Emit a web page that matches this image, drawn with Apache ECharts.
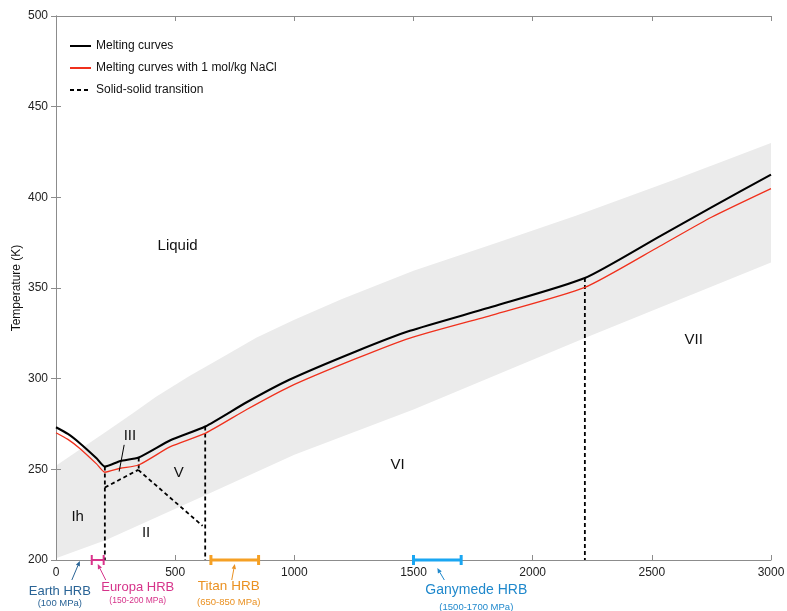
<!DOCTYPE html>
<html>
<head>
<meta charset="utf-8">
<script src="https://cdn.jsdelivr.net/npm/echarts@6/dist/echarts.min.js"></script>
<style>
html, body { margin: 0; padding: 0; background: #fff; }
#chart { width: 787px; height: 611px; }
</style>
</head>
<body>
<div id="chart"></div>
<script>
var FONT = '"Liberation Sans", Arial, Helvetica, sans-serif';

// melting curve of pure water ice (P in MPa, T in K)
var meltP = [0, 50, 100, 170, 205, 270, 347, 480, 626, 800, 979, 1258, 1485, 1834, 2219, 2533, 2750, 3000];
var meltT = [273.2, 269.5, 264.4, 256.1, 251.5, 254.6, 256.5, 266, 273.6, 287, 299.4, 315, 326.4, 339.8, 355.5, 378.5, 394.5, 412.5];

// melting curve with 1 mol/kg NaCl
var naclP = [0, 50, 100, 170, 205, 270, 347, 480, 628, 800, 979, 1258, 1485, 1834, 2219, 2533, 2750, 3000];
var naclT = [270.2, 266.5, 261.5, 253, 248.4, 250.6, 252.4, 262.5, 270, 283, 295.5, 311, 322.4, 335.2, 350.3, 373, 389, 404.8];

// solid-solid transitions, each a pair of [P, T] points
var transitions = [
    [[205, 251.5], [205, 200]],
    [[205, 240], [345, 249.7]],
    [[347, 256.5], [347, 249.7]],
    [[345, 249.7], [615, 218.8]],
    [[626, 273.6], [626, 200]],
    [[2219, 355.5], [2219, 200]]
];

// grey band edges
var bandUpperP = [0, 100, 213, 324, 420, 560, 700, 840, 1000, 1200, 1500, 1850, 2184, 2600, 3000];
var bandUpperT = [252, 261, 271, 281, 290, 301.5, 312, 322.5, 332.5, 344, 359.5, 375, 390, 410, 430];
var bandLowerP = [0, 210, 615, 1000, 1500, 2219, 3000];
var bandLowerT = [201, 211, 235, 258, 283, 322.4, 364];

// phase labels
var phaseNames = ['Liquid', 'III', 'V', 'VI', 'VII', 'Ih', 'II'];
var phaseP = [510, 310, 515, 1433, 2676, 91, 378];
var phaseT = [373.5, 268.4, 248.2, 252.4, 321.4, 223.6, 214.7];

// leader line from the III label
var leaderP = [286, 265];
var leaderT = [263.5, 248.8];

// high-pressure ranges of ocean bottoms
var hrbNames = ['Earth HRB', 'Europa HRB', 'Titan HRB', 'Ganymede HRB'];
var hrbRanges = ['(100 MPa)', '(150-200 MPa)', '(650-850 MPa)', '(1500-1700 MPa)'];
var hrbLow = [100, 150, 650, 1500];
var hrbHigh = [100, 200, 850, 1700];

var xTicks = [0, 500, 1000, 1500, 2000, 2500, 3000];
var yTicks = [200, 250, 300, 350, 400, 450, 500];

// drawing styles for the HRB marks
var hrbStyle = [
    {bar: '#1f5f96', text: '#2a6496', barW: 0, tailDx: -8, headDy: 1, labelDx: -20, nameDy: 31, subDy: 43, nameSize: 13, subSize: 9.5},
    {bar: '#d9338b', text: '#d6338a', barW: 2, tailDx: 8, headDy: 4, labelDx: 40, nameDy: 27.5, subDy: 41, nameSize: 13, subSize: 8.5},
    {bar: '#f5a024', text: '#ea9122', barW: 3, tailDx: -3, headDy: 4, labelDx: -6, nameDy: 26.5, subDy: 42, nameSize: 13.5, subSize: 9.5},
    {bar: '#1aa6f2', text: '#1f88cc', barW: 3, tailDx: 7, headDy: 8, labelDx: 39, nameDy: 30, subDy: 47, nameSize: 14, subSize: 9.5}
];

function zip(ps, ts) {
    return ps.map(function (p, i) { return [p, ts[i]]; });
}

function renderBand(params, api) {
    var pts = [];
    bandUpperP.forEach(function (p, i) { pts.push(api.coord([p, bandUpperT[i]])); });
    for (var i = bandLowerP.length - 1; i >= 0; i--) {
        pts.push(api.coord([bandLowerP[i], bandLowerT[i]]));
    }
    return {
        type: 'polygon',
        shape: {points: pts},
        style: {fill: '#ebebeb'}
    };
}

function renderHrb(params, api) {
    var i = params.dataIndex;
    var s = hrbStyle[i];
    var lo = api.coord([api.value(0), 200]);
    var hi = api.coord([api.value(1), 200]);
    var base = lo[1];
    var mid = (lo[0] + hi[0]) / 2;
    var children = [];
    if (hi[0] > lo[0]) {
        children.push({type: 'line', shape: {x1: lo[0], y1: base, x2: hi[0], y2: base}, style: {stroke: s.bar, lineWidth: s.barW}});
        children.push({type: 'line', shape: {x1: lo[0], y1: base - 5, x2: lo[0], y2: base + 5}, style: {stroke: s.bar, lineWidth: s.barW}});
        children.push({type: 'line', shape: {x1: hi[0], y1: base - 5, x2: hi[0], y2: base + 5}, style: {stroke: s.bar, lineWidth: s.barW}});
    }
    // arrow from label to the axis
    var hx = mid, hy = base + s.headDy;
    var tx = mid + s.tailDx, ty = base + 20;
    var dx = hx - tx, dy = hy - ty, len = Math.sqrt(dx * dx + dy * dy);
    var ux = dx / len, uy = dy / len;
    var bx = hx - ux * 5, by = hy - uy * 5;
    children.push({type: 'line', shape: {x1: tx, y1: ty, x2: bx, y2: by}, style: {stroke: s.text, lineWidth: 1}});
    children.push({type: 'polygon', shape: {points: [[hx, hy], [bx - uy * 2.2, by + ux * 2.2], [bx + uy * 2.2, by - ux * 2.2]]}, style: {fill: s.text}});
    children.push({
        type: 'text',
        style: {x: mid + s.labelDx, y: base + s.nameDy, text: hrbNames[i], fill: s.text, fontSize: s.nameSize, fontFamily: FONT, align: 'center', verticalAlign: 'middle'}
    });
    children.push({
        type: 'text',
        style: {x: mid + s.labelDx, y: base + s.subDy, text: hrbRanges[i], fill: s.text, fontSize: s.subSize, fontFamily: FONT, align: 'center', verticalAlign: 'middle'}
    });
    return {type: 'group', children: children};
}

function renderPhase(params, api) {
    var pt = api.coord([api.value(0), api.value(1)]);
    return {
        type: 'text',
        style: {x: pt[0], y: pt[1], text: phaseNames[params.dataIndex], fill: '#111', fontSize: 15, fontFamily: FONT, align: 'center', verticalAlign: 'middle'}
    };
}

var series = [];

series.push({
    type: 'custom',
    name: 'band',
    renderItem: renderBand,
    data: [[0, 0]],
    silent: true,
    z: 0
});

transitions.forEach(function (seg) {
    series.push({
        type: 'line',
        name: 'Solid-solid transition',
        data: seg,
        symbol: 'none',
        lineStyle: {color: '#000', width: 1.8, type: [4, 3]},
        itemStyle: {color: '#000'},
        z: 2
    });
});

series.push({
    type: 'line',
    name: 'Melting curves',
    data: zip(meltP, meltT),
    symbol: 'none',
    smooth: 0.2,
    lineStyle: {color: '#000', width: 2.1},
    itemStyle: {color: '#000'},
    z: 3
});

series.push({
    type: 'line',
    name: 'Melting curves with 1 mol/kg NaCl',
    data: zip(naclP, naclT),
    symbol: 'none',
    smooth: 0.2,
    lineStyle: {color: '#f0301c', width: 1.3},
    itemStyle: {color: '#f0301c'},
    z: 4
});

series.push({
    type: 'line',
    name: 'leader',
    data: zip(leaderP, leaderT),
    symbol: 'none',
    lineStyle: {color: '#000', width: 1},
    z: 4
});

series.push({
    type: 'custom',
    name: 'phases',
    renderItem: renderPhase,
    data: zip(phaseP, phaseT),
    silent: true,
    z: 5
});

series.push({
    type: 'custom',
    name: 'hrb',
    renderItem: renderHrb,
    data: zip(hrbLow, hrbHigh),
    clip: false,
    silent: true,
    z: 6
});

var axisLineStyle = {lineStyle: {color: '#8c8c8c', width: 1}};
var plainNum = function (v) { return String(v); };

var option = {
    animation: false,
    backgroundColor: '#fff',
    grid: {left: 56, right: 16, top: 16, bottom: 51, outerBoundsMode: 'none', containLabel: false},
    legend: {
        data: ['Melting curves', 'Melting curves with 1 mol/kg NaCl', 'Solid-solid transition'],
        orient: 'vertical',
        left: 64,
        top: 35,
        itemWidth: 21,
        itemHeight: 14,
        itemGap: 10,
        itemStyle: {opacity: 0},
        textStyle: {color: '#111', fontSize: 12, fontFamily: FONT},
        selectedMode: false
    },
    xAxis: [{
        type: 'value',
        min: xTicks[0],
        max: xTicks[xTicks.length - 1],
        interval: 500,
        axisLine: axisLineStyle,
        axisTick: {inside: true, length: 5, lineStyle: {color: '#8c8c8c'}},
        axisLabel: {color: '#222', fontSize: 12, fontFamily: FONT, margin: 7, formatter: plainNum},
        splitLine: {show: false}
    }, {
        type: 'value',
        position: 'top',
        min: xTicks[0],
        max: xTicks[xTicks.length - 1],
        interval: 500,
        axisLine: axisLineStyle,
        axisTick: {inside: true, length: 5, lineStyle: {color: '#8c8c8c'}},
        axisLabel: {show: false},
        splitLine: {show: false}
    }],
    yAxis: [{
        type: 'value',
        min: yTicks[0],
        max: yTicks[yTicks.length - 1],
        interval: 50,
        name: 'Temperature (K)',
        nameLocation: 'middle',
        nameGap: 33,
        nameMoveOverlap: false,
        nameTextStyle: {color: '#111', fontSize: 12, fontFamily: FONT},
        axisLine: axisLineStyle,
        axisTick: {inside: true, length: 5, lineStyle: {color: '#8c8c8c'}},
        axisLabel: {color: '#222', fontSize: 12, fontFamily: FONT, margin: 8, formatter: plainNum},
        splitLine: {show: false}
    }, {
        type: 'value',
        position: 'right',
        min: yTicks[0],
        max: yTicks[yTicks.length - 1],
        interval: 50,
        axisLine: axisLineStyle,
        axisTick: {inside: true, length: 5, lineStyle: {color: '#8c8c8c'}},
        axisLabel: {show: false},
        splitLine: {show: false}
    }],
    series: series
};

var chart = echarts.init(document.getElementById('chart'));
chart.setOption(option);
</script>
</body>
</html>
